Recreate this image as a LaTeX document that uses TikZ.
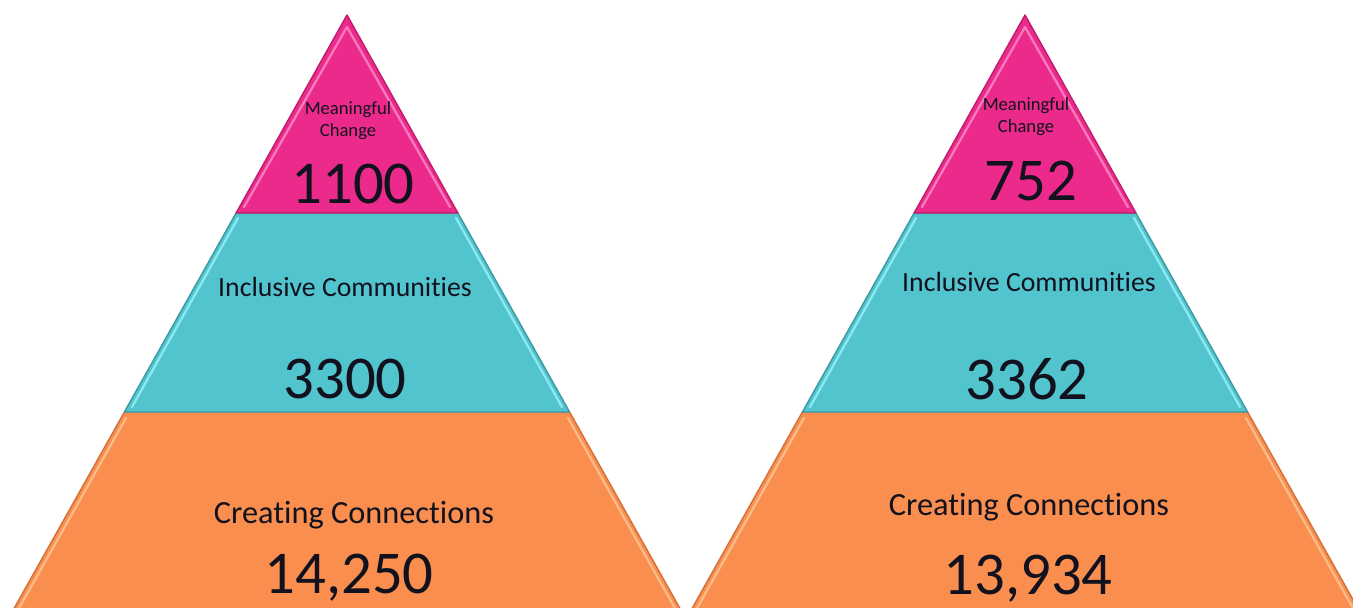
\documentclass[tikz,border=0pt]{standalone}
\usepackage{fontspec}
\setmainfont{Carlito}[Ligatures=NoCommon]
\definecolor{Pinky}{HTML}{EC2A8B}
\definecolor{PinkyEdge}{HTML}{C01C6E}
\definecolor{PinkyShine}{HTML}{F77BBB}
\definecolor{Teal}{HTML}{52C4CE}
\definecolor{TealEdge}{HTML}{3A9AA3}
\definecolor{TealShine}{HTML}{8DE8F0}
\definecolor{Peach}{HTML}{F98E4E}
\definecolor{PeachEdge}{HTML}{D4703A}
\definecolor{PeachShine}{HTML}{FDBB8A}
\definecolor{Ink}{HTML}{12121E}
\tikzset{
  tier/.style={line width=0.8pt, line join=round},
  shine/.style={line width=1.3pt, line cap=round},
  tinytext/.style={font=\fontsize{10.6}{12.6}\selectfont, text=Ink, align=center, inner sep=0pt},
  midtext/.style={font=\fontsize{15.8}{19}\selectfont, text=Ink, inner sep=0pt, anchor=base},
  bigmidtext/.style={font=\fontsize{18.4}{22}\selectfont, text=Ink, inner sep=0pt, anchor=base},
  numtext/.style={font=\fontsize{34.6}{40}\selectfont, text=Ink, inner sep=0pt, anchor=base}
}
\begin{document}
\begin{tikzpicture}[x=0.02cm,y=-0.02cm]
\useasboundingbox (0,0) rectangle (1353,608);
\clip (0,0) rectangle (1353,608);
% left pyramid
\draw[tier, fill=Peach, draw=PeachEdge](124.4,412)--(569.6,412)--(687,621)--(7,621)--cycle;
\draw[tier, fill=Teal, draw=TealEdge](236.1,213)--(457.9,213)--(569.6,412)--(124.4,412)--cycle;
\draw[tier, fill=Pinky, draw=PinkyEdge](347,15)--(457.9,213)--(236.1,213)--cycle;
\draw[shine, PinkyShine](347,27)--(244,207);
\draw[shine, PinkyShine](347,27)--(450,207);
\draw[shine, TealShine](238,218)--(132,407);
\draw[shine, TealShine](456,218)--(562,407);
\draw[shine, PeachShine](126,418)--(18,610);
\draw[shine, PeachShine](568,418)--(676,610);
%
% right pyramid
\draw[tier, fill=Peach, draw=PeachEdge](802.4,412)--(1247.6,412)--(1365,621)--(685,621)--cycle;
\draw[tier, fill=Teal, draw=TealEdge](914.1,213)--(1135.9,213)--(1247.6,412)--(802.4,412)--cycle;
\draw[tier, fill=Pinky, draw=PinkyEdge](1025,15)--(1135.9,213)--(914.1,213)--cycle;
\draw[shine, PinkyShine](1025,27)--(922,207);
\draw[shine, PinkyShine](1025,27)--(1128,207);
\draw[shine, TealShine](916,218)--(810,407);
\draw[shine, TealShine](1134,218)--(1240,407);
\draw[shine, PeachShine](804,418)--(696,610);
\draw[shine, PeachShine](1246,418)--(1354,610);
%
\node[tinytext] (meanL) at (348,121) {Meaningful\\Change};
\node[numtext] (numMeanL) at (353,203) {1100};
\node[midtext] (inclL) at (345,296) {Inclusive Communities};
\node[numtext] (numInclL) at (345,398) {3300};
\node[bigmidtext] (connL) at (354,523) {Creating Connections};
\node[numtext] (numConnL) at (349,593) {14,250};
%
\node[tinytext] (meanR) at (1026,117) {Meaningful\\Change};
\node[numtext] (numMeanR) at (1031,200) {752};
\node[midtext] (inclR) at (1029,291) {Inclusive Communities};
\node[numtext] (numInclR) at (1027,399) {3362};
\node[bigmidtext] (connR) at (1029,515) {Creating Connections};
\node[numtext] (numConnR) at (1028,594) {13,934};
\end{tikzpicture}
\end{document}
